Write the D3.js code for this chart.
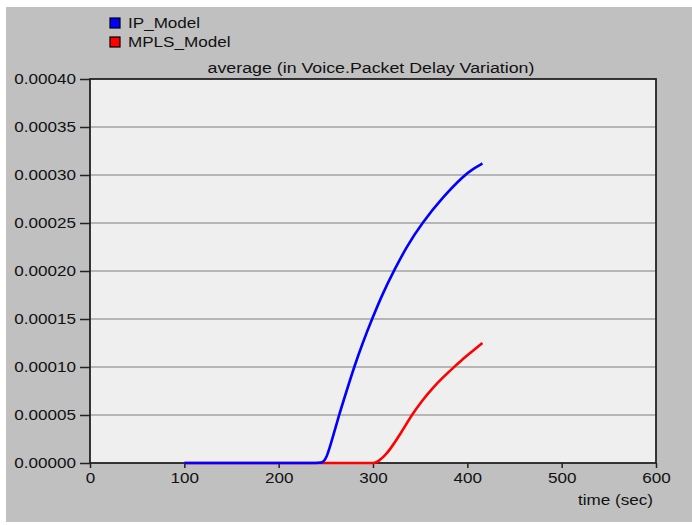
<!DOCTYPE html>
<html lang="en">
<head>
<meta charset="UTF-8">
<title>Voice Packet Delay Variation</title>
<script src="https://cdnjs.cloudflare.com/ajax/libs/d3/7.8.5/d3.min.js"></script>
<style>
  body { margin: 0; background: #fff; }
  text { font-family: "Liberation Sans", Arial, sans-serif; fill: #111; }
</style>
</head>
<body>
<script>

var w = 692, h = 525;
var margin = {top: 79, right: 36, bottom: 62, left: 90};

// time (sec) and values
var ipTime  = [100, 200, 240, 247, 251, 256, 264, 272, 280, 289, 299, 310, 322, 336, 352, 374, 397, 407, 416];
var ipValue = [0, 0, 0, 0, 0.000006, 0.000022, 0.00005, 0.000075, 0.0001, 0.000125, 0.00015, 0.000176, 0.0002, 0.000226, 0.00025, 0.000277, 0.0003, 0.000307, 0.000312];

var mplsTime  = [100, 200, 280, 296, 302, 306, 312, 318, 329, 341, 352, 363, 375, 386, 396, 406, 416];
var mplsValue = [0, 0, 0, 0, 0, 0.000002, 0.000007, 0.000014, 0.00003, 0.00005, 0.000065, 0.000078, 0.00009, 0.0001, 0.000109, 0.000117, 0.000125];

var seriesNames = ["IP_Model", "MPLS_Model"];
var seriesColors = ["#0000ff", "#ff0000"];

var xTicks = [0, 100, 200, 300, 400, 500, 600];
var yTicks = [0, 0.00005, 0.0001, 0.00015, 0.0002, 0.00025, 0.0003, 0.00035, 0.0004];

var chartTitle = "average (in Voice.Packet Delay Variation)";
var xLabel = "time (sec)";

var svg = d3.select("body").append("svg")
    .attr("width", w)
    .attr("height", h);

// grey window background
svg.append("rect")
    .attr("x", 6).attr("y", 7)
    .attr("width", w - 6).attr("height", h - 10)
    .attr("fill", "#c0c0c0");

var pw = w - margin.left - margin.right;
var ph = h - margin.top - margin.bottom;

var x = d3.scaleLinear().domain([0, 600]).range([margin.left, margin.left + pw]);
var y = d3.scaleLinear().domain([0, 0.0004]).range([margin.top + ph, margin.top]);

svg.append("rect")
    .attr("x", margin.left).attr("y", margin.top)
    .attr("width", pw).attr("height", ph)
    .attr("fill", "#efefef");

// horizontal grid
svg.append("g")
    .selectAll("line")
    .data(yTicks.slice(1, -1))
    .enter().append("line")
    .attr("x1", margin.left).attr("x2", margin.left + pw)
    .attr("y1", function(d) { return y(d); })
    .attr("y2", function(d) { return y(d); })
    .attr("stroke", "#a3a3a3")
    .attr("stroke-width", 1.6);

var yAxis = svg.append("g")
    .attr("transform", "translate(" + margin.left + ",0)")
    .call(d3.axisLeft(y).tickValues(yTicks).tickFormat(d3.format(".5f")).tickSize(10).tickPadding(4));

var xAxis = svg.append("g")
    .attr("transform", "translate(0," + (margin.top + ph) + ")")
    .call(d3.axisBottom(x).tickValues(xTicks).tickFormat(d3.format("d")).tickSize(5).tickPadding(5));

[yAxis, xAxis].forEach(function(g) {
  g.select(".domain").remove();
  g.selectAll("line").attr("stroke", "#222").attr("stroke-width", 1.5);
  g.selectAll("text").attr("font-size", "14px").attr("fill", "#111");
});

// plot frame
svg.append("rect")
    .attr("x", margin.left).attr("y", margin.top)
    .attr("width", pw).attr("height", ph)
    .attr("fill", "none")
    .attr("stroke", "#222")
    .attr("stroke-width", 1.8);

var line = d3.line()
    .x(function(d) { return x(d[0]); })
    .y(function(d) { return y(d[1]); })
    .curve(d3.curveBasis);

// red first so the blue sits on top where both are at zero
var series = [
  d3.zip(mplsTime, mplsValue),
  d3.zip(ipTime, ipValue)
];
var order = [1, 0];

svg.append("g")
    .selectAll("path")
    .data(series)
    .enter().append("path")
    .attr("d", line)
    .attr("fill", "none")
    .attr("stroke", function(d, i) { return seriesColors[order[i]]; })
    .attr("stroke-width", 2.6)
    .attr("stroke-linejoin", "round");

svg.append("text")
    .attr("class", "title")
    .attr("x", margin.left + pw / 2 - 2)
    .attr("y", 73)
    .attr("text-anchor", "middle")
    .attr("font-size", "14px")
    .text(chartTitle);

svg.append("text")
    .attr("x", 653)
    .attr("y", 505)
    .attr("text-anchor", "end")
    .attr("font-size", "14px")
    .text(xLabel);

var legend = svg.append("g")
    .selectAll("g")
    .data(seriesNames)
    .enter().append("g")
    .attr("transform", function(d, i) { return "translate(110," + (18 + i * 19) + ")"; });

legend.append("rect")
    .attr("width", 10).attr("height", 10)
    .attr("fill", function(d, i) { return seriesColors[i]; })
    .attr("stroke", "#000")
    .attr("stroke-width", 1.2);

legend.append("text")
    .attr("x", 18)
    .attr("y", 10)
    .attr("font-size", "14px")
    .text(function(d) { return d; });

// the original's font is wider than Arial, stretch the labels a bit
svg.selectAll("text").each(function() {
  var len = this.getComputedTextLength();
  var k = this.getAttribute("class") === "title" ? 1.27 : 1.22;
  this.setAttribute("textLength", len * k);
  this.setAttribute("lengthAdjust", "spacingAndGlyphs");
});

</script>
</body>
</html>
